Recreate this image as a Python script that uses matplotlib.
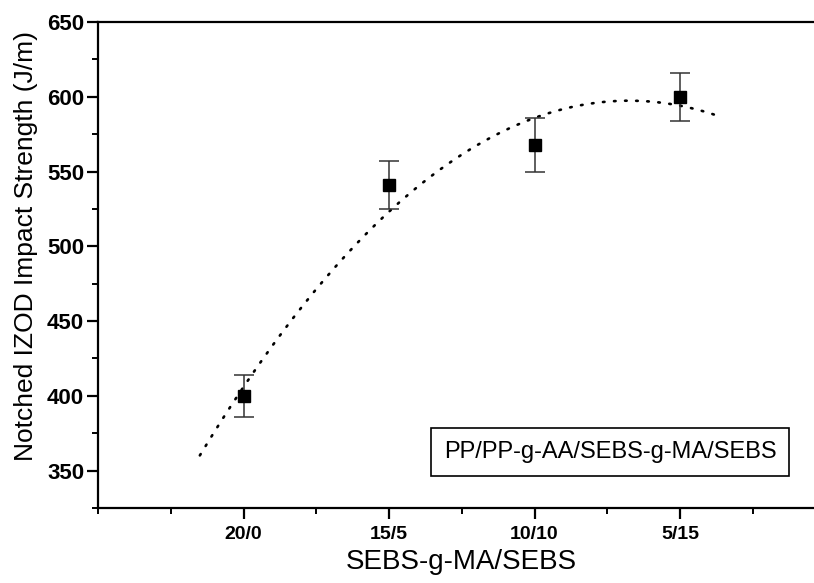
#!/usr/bin/env python3

import matplotlib
matplotlib.use('Agg')
import matplotlib.pyplot as plt
import numpy as np
from matplotlib.ticker import MultipleLocator

# blend ratio SEBS-g-MA/SEBS
CATEGORIES = ['20/0', '15/5', '10/10', '5/15']
IMPACT = [400, 541, 568, 600]      # J/m
IMPACT_ERR = [14, 16, 18, 16]
FIT_RANGE = (0.70, 4.25)           # span of the dotted fit curve, in category units
LEGEND_TEXT = 'PP/PP-g-AA/SEBS-g-MA/SEBS'

plt.rcParams['font.family'] = ['Liberation Sans', 'DejaVu Sans']

fig = plt.figure(figsize=(8.14, 5.83), dpi=100)
# axes run off the right side of the picture, like the scanned original
ax = fig.add_axes([98 / 814, 75 / 583, 727.5 / 814, 486 / 583])

x = np.arange(1, len(CATEGORIES) + 1)

# quadratic fit through the points
coef = np.polyfit(x, IMPACT, 2)
xf = np.linspace(FIT_RANGE[0], FIT_RANGE[1], 200)
ax.plot(xf, np.polyval(coef, xf), color='black', lw=1.9,
        linestyle=(0, (0.6, 3.6)), dash_capstyle='round', zorder=2)

ax.errorbar(x, IMPACT, yerr=IMPACT_ERR, fmt='s', color='black', ms=9,
            ecolor='#333333', elinewidth=1.1, capsize=7.5, capthick=1.1,
            zorder=3)

ax.set_xlim(0, 5)
ax.set_ylim(325, 650)
ax.set_xticks(x)
ax.set_xticklabels(CATEGORIES)
ax.xaxis.set_minor_locator(MultipleLocator(0.5))
ax.yaxis.set_major_locator(MultipleLocator(50))
ax.yaxis.set_minor_locator(MultipleLocator(25))

for s in ax.spines.values():
    s.set_linewidth(1.6)
ax.tick_params(which='major', direction='out', length=8, width=1.6)
ax.tick_params(which='minor', direction='out', length=4.5, width=1.4)
ax.tick_params(axis='x', labelsize=14, pad=5)
ax.tick_params(axis='y', labelsize=16, pad=2)
for lab in ax.get_xticklabels() + ax.get_yticklabels():
    lab.set_fontweight('bold')

ax.set_xlabel('SEBS-g-MA/SEBS', fontsize=20, labelpad=4)
ax.set_ylabel('Notched IZOD Impact Strength (J/m)', fontsize=19)
ax.yaxis.set_label_coords(-0.083, 0.539)

ax.text(610 / 814, 1 - 452 / 583, LEGEND_TEXT, transform=fig.transFigure,
        ha='center', va='center', fontsize=17,
        bbox=dict(boxstyle='square,pad=0.55', fc='white', ec='black', lw=1.2))

fig.savefig('out.png', dpi=100)
